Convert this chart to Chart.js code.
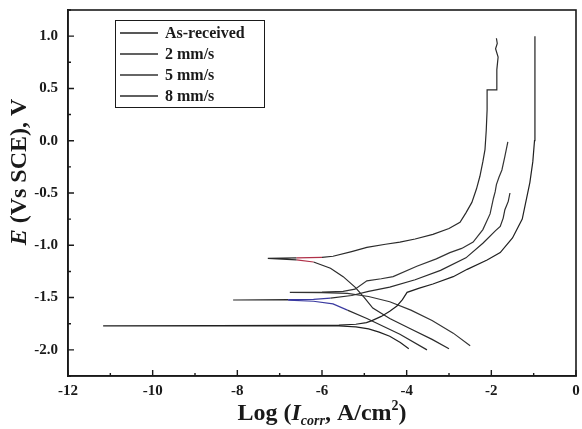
<!DOCTYPE html>
<html lang="en">
<head>
  <meta charset="UTF-8">
  <title>Polarization curves</title>
  <script src="https://cdn.jsdelivr.net/npm/chart.js"></script>
  <style>
    html, body { margin: 0; padding: 0; background: #fff; }
  </style>
</head>
<body>
<canvas id="tafelChart" width="582" height="429"></canvas>

<script>
  // legend names
  const seriesNames = ['As-received', '2 mm/s', '5 mm/s', '8 mm/s'];

  // As-received (Ecorr ~ -1.77 V)
  const asReceivedLogI = [-3.95, -4.15, -4.4, -4.65, -4.9, -5.2, -5.6, -6.5, -8.5, -11.17,
    -8.5, -6.5, -5.6, -5.2, -4.95, -4.82, -4.6, -4.4, -4.23, -4.1, -3.99, -3.7, -3.38, -2.9,
    -2.57, -2.1, -1.79, -1.5, -1.27, -1.09, -1.02, -0.98, -0.97, -0.97, -0.97];
  const asReceivedE = [-1.99, -1.93, -1.87, -1.83, -1.8, -1.78, -1.772, -1.77, -1.77, -1.77,
    -1.768, -1.766, -1.764, -1.755, -1.74, -1.72, -1.68, -1.63, -1.58, -1.52, -1.45, -1.41, -1.37, -1.30,
    -1.23, -1.14, -1.07, -0.93, -0.75, -0.4, -0.2, 0.0, 0.3, 0.7, 1.0];

  // 2 mm/s (Ecorr ~ -1.52 V)
  const mm2LogI = [-3.52, -4.16, -4.94, -5.4, -5.74, -6.2, -6.8, -8.1,
    -6.8, -6.2, -5.8, -5.3, -4.9, -4.4, -3.8, -3.2, -2.6, -2.2, -1.9, -1.79, -1.72, -1.68, -1.6, -1.56];
  const mm2E = [-2.0, -1.85, -1.70, -1.62, -1.56, -1.535, -1.525, -1.523,
    -1.52, -1.518, -1.505, -1.48, -1.44, -1.40, -1.33, -1.24, -1.12, -0.98, -0.86, -0.82, -0.74, -0.66, -0.58, -0.5];

  // 5 mm/s (Ecorr ~ -1.45 V)
  const mm5LogI = [-2.5, -2.9, -3.4, -3.9, -4.4, -4.9, -5.4, -6.0, -6.76,
    -6.0, -5.5, -5.22, -4.94, -4.6, -4.32, -3.76, -3.3, -2.98, -2.7, -2.43, -2.2, -2.03, -1.95,
    -1.91, -1.88, -1.82, -1.75, -1.68, -1.61];
  const mm5E = [-1.96, -1.84, -1.72, -1.62, -1.54, -1.49, -1.46, -1.452, -1.45,
    -1.447, -1.44, -1.42, -1.34, -1.32, -1.30, -1.20, -1.13, -1.07, -1.03, -0.97, -0.85, -0.70, -0.55,
    -0.49, -0.42, -0.35, -0.28, -0.15, -0.01];

  // 8 mm/s (Ecorr ~ -1.13 V)
  const mm8LogI = [-3.0, -3.4, -3.9, -4.4, -4.8, -5.0, -5.22, -5.5, -5.8, -6.2, -6.6, -7.28,
    -6.6, -6.0, -5.74, -5.3, -4.94, -4.5, -4.16, -3.8, -3.38, -3.0, -2.74, -2.6, -2.46, -2.35,
    -2.27, -2.2, -2.15, -2.12, -2.10, -2.10, -1.87, -1.87, -1.84, -1.9, -1.86, -1.88];
  const mm8E = [-1.99, -1.9, -1.8, -1.7, -1.6, -1.5, -1.40, -1.30, -1.22, -1.16, -1.14, -1.125,
    -1.12, -1.115, -1.105, -1.06, -1.02, -0.99, -0.97, -0.94, -0.895, -0.84, -0.78, -0.69, -0.59, -0.46,
    -0.34, -0.2, -0.086, 0.1, 0.295, 0.486, 0.486, 0.68, 0.8, 0.88, 0.93, 0.98];

  const serif = "'Liberation Serif', 'Times New Roman', serif";
  const ink = '#1a1a1a';

  function toPoints(xs, ys) {
    return xs.map((x, i) => ({x: x, y: ys[i]}));
  }

  // frame + inward ticks
  const framePlugin = {
    id: 'frame',
    afterDraw(chart) {
      const ctx = chart.ctx;
      const a = chart.chartArea;
      const xs = chart.scales.x, ys = chart.scales.y;
      ctx.save();
      ctx.strokeStyle = ink;
      ctx.lineWidth = 1.6;
      ctx.strokeRect(a.left, a.top, a.right - a.left, a.bottom - a.top);
      ctx.lineWidth = 1.4;
      ctx.beginPath();
      xs.ticks.forEach(t => {
        const px = xs.getPixelForValue(t.value);
        const len = (t.value % 2 === 0) ? 6 : 3;
        ctx.moveTo(px, a.bottom);
        ctx.lineTo(px, a.bottom - len);
      });
      ys.ticks.forEach(t => {
        const py = ys.getPixelForValue(t.value);
        const major = Math.abs(t.value * 2 - Math.round(t.value * 2)) < 1e-9;
        ctx.moveTo(a.left, py);
        ctx.lineTo(a.left + (major ? 6 : 3), py);
      });
      ctx.stroke();
      ctx.restore();
    }
  };

  // axis titles with italics / sub / superscript
  const titlePlugin = {
    id: 'axisTitles',
    afterDraw(chart) {
      const ctx = chart.ctx;
      const a = chart.chartArea;
      ctx.save();
      ctx.fillStyle = ink;
      ctx.textBaseline = 'alphabetic';

      const parts = [
        {t: 'Log (', f: 'bold 24px ' + serif, dy: 0},
        {t: 'I', f: 'italic bold 24px ' + serif, dy: 0},
        {t: 'corr', f: 'italic bold 14px ' + serif, dy: 5},
        {t: ', A/cm', f: 'bold 24px ' + serif, dy: 0},
        {t: '2', f: 'bold 14px ' + serif, dy: -10},
        {t: ')', f: 'bold 24px ' + serif, dy: 0}
      ];
      let total = 0;
      parts.forEach(p => { ctx.font = p.f; p.w = ctx.measureText(p.t).width; total += p.w; });
      let x = (a.left + a.right) / 2 - total / 2;
      const base = 420;
      parts.forEach(p => {
        ctx.font = p.f;
        ctx.fillText(p.t, x, base + p.dy);
        x += p.w;
      });

      ctx.translate(26, 172);
      ctx.rotate(-Math.PI / 2);
      const yparts = [
        {t: 'E', f: 'italic bold 24px ' + serif},
        {t: ' (Vs SCE), V', f: 'bold 24px ' + serif}
      ];
      total = 0;
      yparts.forEach(p => { ctx.font = p.f; p.w = ctx.measureText(p.t).width; total += p.w; });
      x = -total / 2;
      yparts.forEach(p => {
        ctx.font = p.f;
        ctx.fillText(p.t, x, 0);
        x += p.w;
      });
      ctx.restore();
    }
  };

  // boxed legend inside the plot
  const legendPlugin = {
    id: 'boxLegend',
    afterDraw(chart) {
      const ctx = chart.ctx;
      ctx.save();
      ctx.strokeStyle = ink;
      ctx.lineWidth = 1;
      ctx.strokeRect(115.5, 20.5, 149, 87);
      const rows = [33, 54, 75, 96];
      ctx.font = 'bold 16px ' + serif;
      ctx.textBaseline = 'middle';
      ctx.fillStyle = ink;
      chart.data.datasets.forEach((ds, i) => {
        ctx.strokeStyle = ds.borderColor;
        ctx.lineWidth = 1.3;
        ctx.beginPath();
        ctx.moveTo(120, rows[i]);
        ctx.lineTo(158, rows[i]);
        ctx.stroke();
        ctx.fillText(ds.label, 165, rows[i] + 1);
      });
      ctx.restore();
    }
  };

  function tintBetween(lo, hi, color) {
    return c => {
      const x0 = c.p0.parsed.x, x1 = c.p1.parsed.x;
      if (x0 > lo && x0 < hi && x1 > lo && x1 < hi) return color;
      return undefined;
    };
  }

  const ctx = document.getElementById('tafelChart').getContext('2d');
  new Chart(ctx, {
    type: 'scatter',
    data: {
      datasets: [
        {label: seriesNames[0], data: toPoints(asReceivedLogI, asReceivedE), borderColor: '#202020'},
        {label: seriesNames[1], data: toPoints(mm2LogI, mm2E), borderColor: '#2c2c2c',
          segment: {borderColor: tintBetween(-7.9, -5.3, '#3a3aa0')}},
        {label: seriesNames[2], data: toPoints(mm5LogI, mm5E), borderColor: '#333333'},
        {label: seriesNames[3], data: toPoints(mm8LogI, mm8E), borderColor: '#2a2a2a',
          segment: {borderColor: tintBetween(-7.0, -5.9, '#b03048')}}
      ].map(d => Object.assign(d, {showLine: true, pointRadius: 0, borderWidth: 1.2, tension: 0, fill: false}))
    },
    options: {
      responsive: false,
      animation: false,
      layout: {padding: {left: 0, right: 6, top: 10, bottom: 0}, autoPadding: false},
      plugins: {
        legend: {display: false},
        tooltip: {enabled: false}
      },
      scales: {
        x: {
          type: 'linear',
          min: -12,
          max: 0,
          grid: {display: false, drawTicks: false},
          border: {display: true, color: ink, width: 1.6},
          ticks: {
            stepSize: 1,
            padding: 6,
            color: ink,
            font: {family: serif, size: 15, weight: 'bold'},
            maxRotation: 0,
            autoSkip: false,
            callback: v => (v % 2 === 0 ? String(v) : '')
          },
          afterFit: s => { s.height = 53; s.paddingLeft = 0; s.paddingRight = 0; }
        },
        y: {
          type: 'linear',
          min: -2.25,
          max: 1.25,
          grid: {display: false, drawTicks: false},
          border: {display: true, color: ink, width: 1.6},
          ticks: {
            stepSize: 0.25,
            padding: 10,
            color: ink,
            font: {family: serif, size: 15, weight: 'bold'},
            autoSkip: false,
            callback: v => (Math.abs(v * 2 - Math.round(v * 2)) < 1e-9 ? v.toFixed(1) : '')
          },
          afterFit: s => { s.width = 68; s.paddingTop = 0; s.paddingBottom = 0; }
        }
      }
    },
    plugins: [framePlugin, titlePlugin, legendPlugin]
  });
</script>
</body>
</html>
